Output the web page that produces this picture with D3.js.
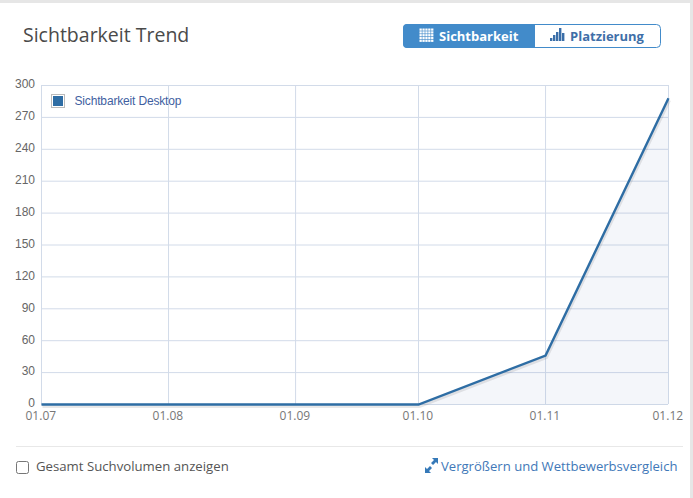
<!DOCTYPE html>
<html><head><meta charset="utf-8">
<script src="https://cdn.jsdelivr.net/npm/d3@7/dist/d3.min.js"></script>
<style>
html,body{margin:0;padding:0;background:#fff;width:693px;height:498px;overflow:hidden}
svg{display:block}
</style></head><body>
<svg id="c" width="693" height="498"></svg>
<script>
const dateLabels = ["01.07","01.08","01.09","01.10","01.11","01.12"];
const dates = [[2020,6,1],[2020,7,1],[2020,8,1],[2020,9,1],[2020,10,1],[2020,11,1]].map(d=>new Date(Date.UTC(d[0],d[1],d[2])));
const values = [0,0,0,0,46,288];
const yTicks = [0,30,60,90,120,150,180,210,240,270,300];
const seriesName = "Sichtbarkeit Desktop";
const title = "Sichtbarkeit Trend";
const tabs = ["Sichtbarkeit","Platzierung"];
const checkboxLabel = "Gesamt Suchvolumen anzeigen";
const linkLabel = "Vergrößern und Wettbewerbsvergleich";

const sans = "'Open Sans','Noto Sans',sans-serif", arial = "'Liberation Sans',Arial,sans-serif";
const svg = d3.select("#c");
const plot = {l:41,r:668,t:85,b:404};
const x = d3.scaleUtc().domain([dates[0],dates[5]]).range([plot.l,plot.r]);
const y = d3.scaleLinear().domain([0,300]).range([plot.b,plot.t]);

// page frame
svg.append("rect").attr("x",0).attr("y",0).attr("width",693).attr("height",3).attr("fill","#e6e6e6");
svg.append("rect").attr("x",690).attr("y",0).attr("width",3).attr("height",498).attr("fill","#e6e6e6");

svg.append("text").text(title).attr("x",23).attr("y",42).attr("font-family",sans).attr("font-size",19.5).attr("fill","#4a4a4a");

// toggle
const tx=403,ty=24.5,tw=258,th=23,splitX=535;
svg.append("rect").attr("x",tx+.5).attr("y",ty).attr("width",tw-1).attr("height",th).attr("rx",4).attr("fill","#fff").attr("stroke","#428bca");
svg.append("path").attr("d",`M${splitX},${ty-.5}H${tx+4}a4,4 0 0 0 -4,4V${ty+th-3.5}a4,4 0 0 0 4,4H${splitX}Z`).attr("fill","#428bca");
const g0=svg.append("g").attr("fill","#fff");
for(let i=0;i<5;i++)for(let j=0;j<5;j++) g0.append("rect").attr("x",419.5+i*2.9).attr("y",28.5+j*2.8).attr("width",2.3).attr("height",2.2);
svg.append("text").text(tabs[0]).attr("x",439).attr("y",41).attr("font-family",sans).attr("font-size",13).attr("font-weight",700).attr("fill","#fff");
[[550,3],[553,6],[556,9],[559,13],[562,8]].forEach(d=>svg.append("rect").attr("x",d[0]).attr("y",41-d[1]).attr("width",2.4).attr("height",d[1]).attr("fill","#3a6ea8"));
svg.append("text").text(tabs[1]).attr("x",570).attr("y",41).attr("font-family",sans).attr("font-size",13).attr("font-weight",700).attr("fill","#3f6fa8");

// grid
const gridCol="#d2dbe9";
const gy=svg.append("g").attr("transform",`translate(${plot.l},0)`).call(d3.axisLeft(y).tickValues(yTicks).tickSize(-(plot.r-plot.l)).tickPadding(6).tickFormat(d3.format("d")));
gy.select(".domain").remove();
gy.selectAll("line").attr("stroke",gridCol);
gy.selectAll("text").attr("font-family",arial).attr("font-size",12).attr("fill","#666").attr("x",-6).attr("y",-1);
const gx=svg.append("g").attr("transform",`translate(0,${plot.b})`).call(d3.axisBottom(x).tickValues(dates).tickSize(-(plot.b-plot.t)).tickPadding(7).tickFormat((d,i)=>dateLabels[i]));
gx.select(".domain").remove();
gx.selectAll("line").attr("stroke",gridCol);
gx.selectAll("text").attr("font-family",sans).attr("font-size",12).attr("fill","#777").attr("dx",-.7);

// area + line
const pts=dates.map((d,i)=>({d,v:values[i]}));
const marks=svg.append("g").attr("transform","translate(.5,.5)");
marks.append("path").datum(pts).attr("d",d3.area().x(p=>x(p.d)).y0(y(0)).y1(p=>y(p.v))).attr("fill","#3c6ea8").attr("fill-opacity",.06);
marks.append("path").datum(pts).attr("d",d3.line().x(p=>x(p.d)).y(p=>y(p.v))).attr("fill","none").attr("stroke","#000").attr("stroke-opacity",.09).attr("stroke-width",3).attr("transform","translate(1,2)");
marks.append("path").datum(pts).attr("d",d3.line().x(p=>x(p.d)).y(p=>y(p.v))).attr("fill","none").attr("stroke","#2e6da4").attr("stroke-width",2.4);

// legend
svg.append("rect").attr("x",51.5).attr("y",94.5).attr("width",13).attr("height",13).attr("fill","#fff").attr("stroke","#bbb");
svg.append("rect").attr("x",53).attr("y",96).attr("width",10).attr("height",10).attr("fill","#2e6da4");
svg.append("text").text(seriesName).attr("x",74.5).attr("y",105).attr("font-family",arial).attr("font-size",12).attr("fill","#3f5f9f").attr("textLength",107);

// footer
svg.append("line").attr("x1",16).attr("x2",683).attr("y1",446.5).attr("y2",446.5).attr("stroke","#e8e8e8");
svg.append("rect").attr("x",16.5).attr("y",461.5).attr("width",12).attr("height",12).attr("rx",2).attr("fill","#fff").attr("stroke","#767676");
svg.append("text").text(checkboxLabel).attr("x",36).attr("y",471).attr("font-family",sans).attr("font-size",13.2).attr("fill","#555");
svg.append("path").attr("d","M425,472V467L427,469L430,466L432,468L429,471L431,473H425Z M438,459V464L436,462L433,465L431,463L434,460L432,458H438Z").attr("fill","#3579b8");
svg.append("text").text(linkLabel).attr("x",441).attr("y",471).attr("font-family",sans).attr("font-size",13.1).attr("fill","#4178b8");
</script>
</body></html>
